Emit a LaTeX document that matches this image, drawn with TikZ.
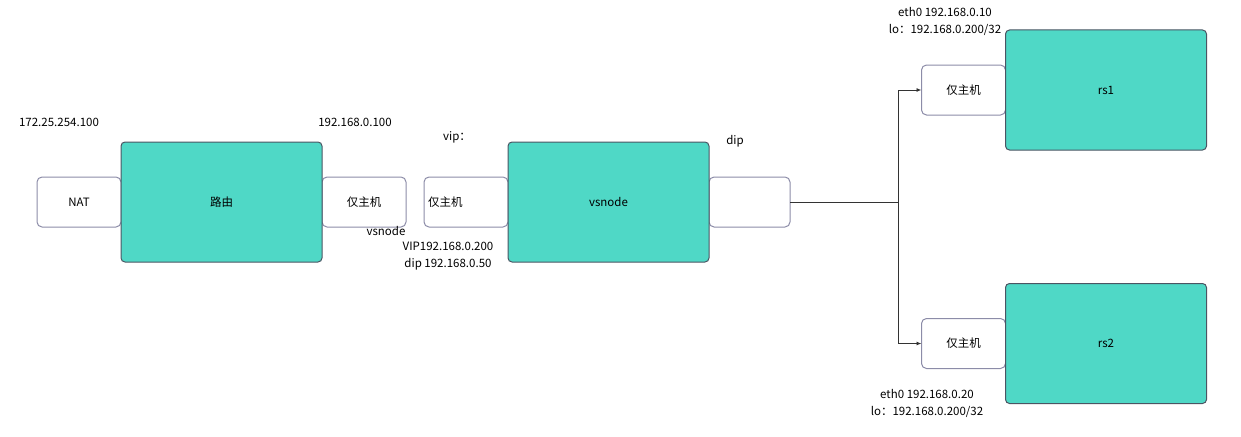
\documentclass[tikz,border=0pt]{standalone}
\usepackage{fontspec}
\setmainfont{Noto Sans CJK SC}
\usetikzlibrary{positioning,arrows.meta}
\definecolor{vmteal}{HTML}{4FD8C6}
\definecolor{vmedge}{HTML}{4B5563}
\definecolor{nicedge}{HTML}{8C8CA8}
\definecolor{wire}{HTML}{333333}
\pgfdeclarelayer{back}
\pgfsetlayers{back,main}

\begin{document}
\begin{tikzpicture}[x=1pt, y=-1pt, node distance=0pt,
    every node/.style={font=\fontsize{11.5}{17}\selectfont},
    host/.style={rectangle, draw=vmedge, line width=1pt, fill=vmteal, rounded corners=4pt, minimum width=201pt, minimum height=120pt, inner sep=0pt, outer sep=0pt},
    nic/.style={rectangle, draw=nicedge, line width=1pt, fill=white, rounded corners=5pt, minimum width=84pt, minimum height=50pt, inner sep=0pt, outer sep=0pt},
    addr/.style={align=center, inner sep=0pt},
    link/.style={draw=wire, line width=0.9pt}]
    \useasboundingbox (0,0) rectangle (1241,436);

    \node (router) [host] at (221.5,202) {路由};
    \node (vsnode) [host] at (608.5,202) {vsnode};
    \node (rs1) [host] at (1106,90) {rs1};
    \node (rs2) [host] at (1106,343.5) {rs2};

    % interfaces sit behind the hosts
    \begin{pgfonlayer}{back}
        \node (nat) [nic, left=of router] {NAT};
        \node (hostnic) [nic, right=of router] {仅主机};
        \node (vipnic) [nic, text width=76pt, align=left, left=of vsnode] {仅主机};
        \node (dipnic) [nic, minimum width=81pt, right=of vsnode] {};
        \node (rs1nic) [nic, left=of rs1] {仅主机};
        \node (rs2nic) [nic, left=of rs2] {仅主机};
    \end{pgfonlayer}

    % addresses
    \node (natip) [addr] at (59,122) {172.25.254.100};
    \node (hostip) [addr] at (355,122) {192.168.0.100};
    \node (vsname) [addr] at (386,231) {vsnode};
    \node (viplabel) [addr] at (457,137) {vip：};
    \node (diplabel) [addr] at (735,141) {dip};
    \node (vsaddr) [addr] at (448,256.5) {VIP192.168.0.200\\dip 192.168.0.50};
    \node (rs1addr) [addr] at (945,21.5) {eth0 192.168.0.10\\lo：192.168.0.200/32};
    \node (rs2addr) [addr] at (927,403.5) {eth0 192.168.0.20\\lo：192.168.0.200/32};

    % links to the real servers
    \coordinate (fork) at (898,202);
    \draw[link] (dipnic.east) -- (fork);
    \draw[link, -{Latex[length=5pt, width=4pt]}] (fork) |- (rs1nic.west);
    \draw[link, -{Latex[length=5pt, width=4pt]}] (fork) |- (rs2nic.west);
\end{tikzpicture}
\end{document}
